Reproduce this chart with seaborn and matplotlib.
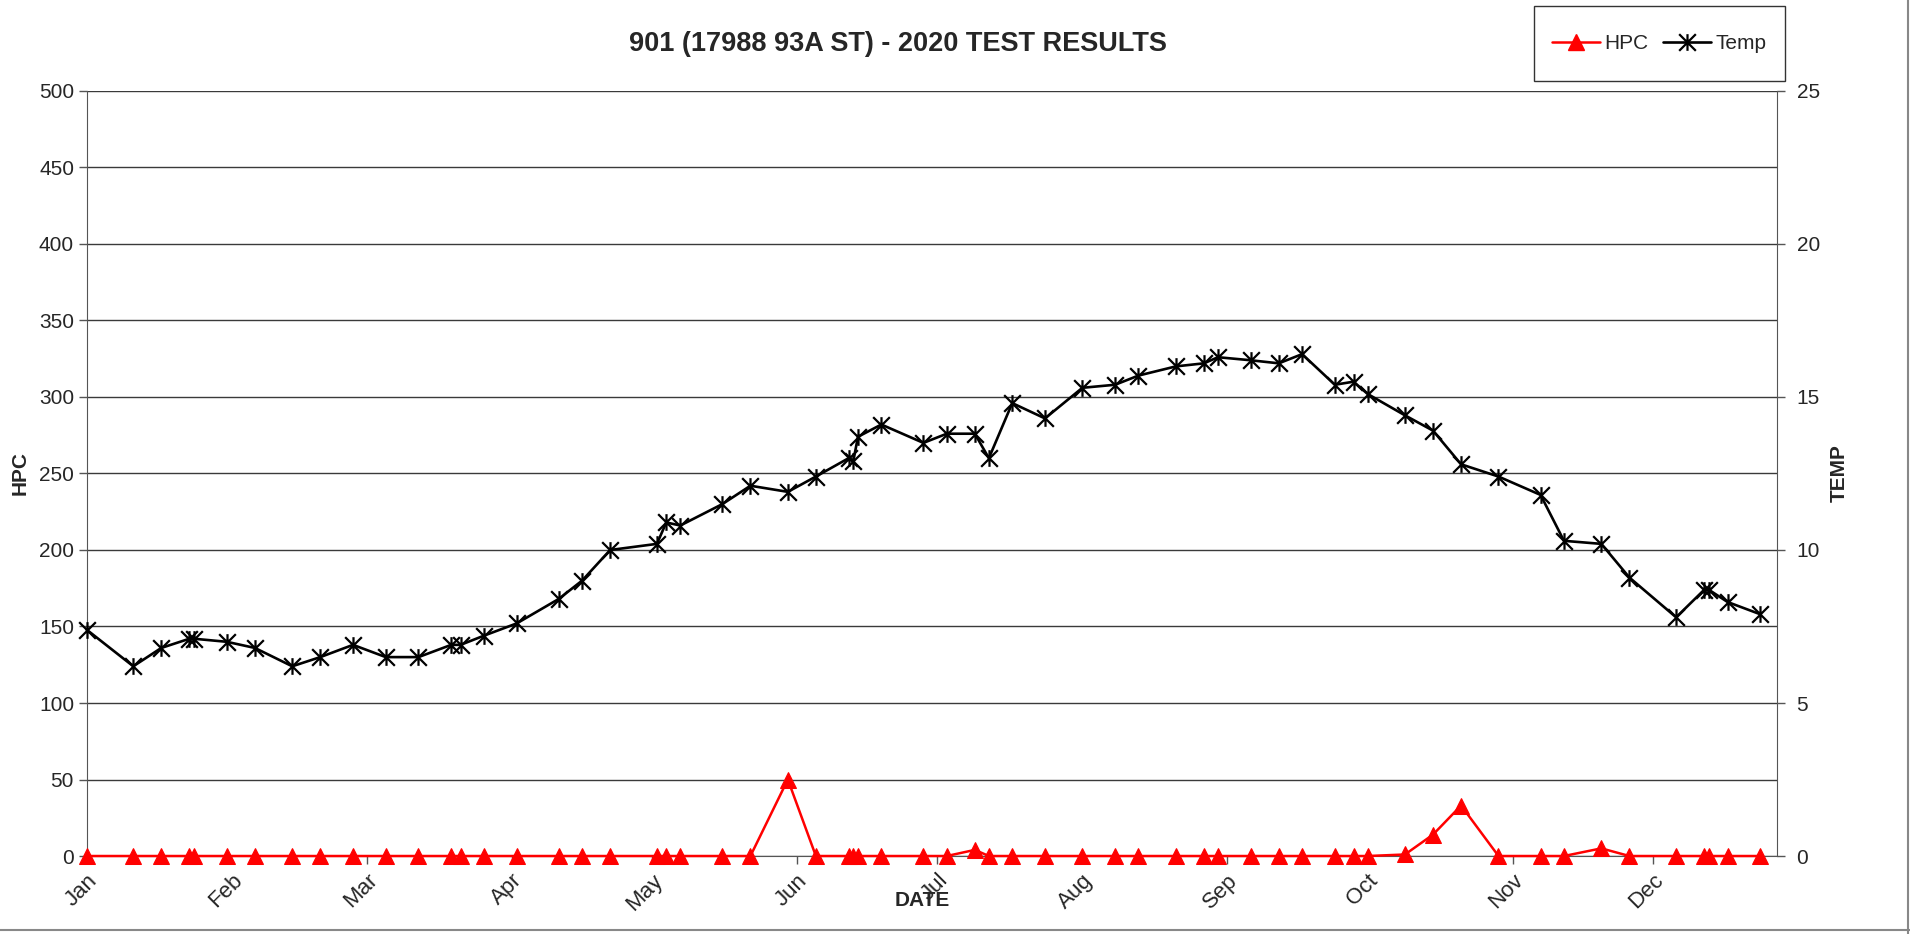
import pandas as pd
import seaborn as sns
import matplotlib.pyplot as plt
import matplotlib.dates as mdates
from matplotlib.path import Path
from matplotlib.patches import Rectangle
from matplotlib.lines import Line2D

# sample dates (2020) with HPC count and water temperature
dates = ['2020-01-01', '2020-01-11', '2020-01-17', '2020-01-23', '2020-01-24',
         '2020-01-31', '2020-02-06', '2020-02-14', '2020-02-20', '2020-02-27',
         '2020-03-05', '2020-03-12', '2020-03-19', '2020-03-21', '2020-03-26',
         '2020-04-02', '2020-04-11', '2020-04-16', '2020-04-22', '2020-05-02',
         '2020-05-04', '2020-05-07', '2020-05-16', '2020-05-22', '2020-05-30',
         '2020-06-05', '2020-06-12', '2020-06-13', '2020-06-14', '2020-06-19',
         '2020-06-28', '2020-07-03', '2020-07-09', '2020-07-12', '2020-07-17',
         '2020-07-24', '2020-08-01', '2020-08-08', '2020-08-13', '2020-08-21',
         '2020-08-27', '2020-08-30', '2020-09-06', '2020-09-12', '2020-09-17',
         '2020-09-24', '2020-09-28', '2020-10-01', '2020-10-09', '2020-10-15',
         '2020-10-21', '2020-10-29', '2020-11-07', '2020-11-12', '2020-11-20',
         '2020-11-26', '2020-12-06', '2020-12-12', '2020-12-13', '2020-12-17',
         '2020-12-24']
hpc = [0, 0, 0, 0, 0, 0, 0, 0, 0, 0,
       0, 0, 0, 0, 0, 0, 0, 0, 0, 0,
       0, 0, 0, 0, 50, 0, 0, 0, 0, 0,
       0, 0, 4, 0, 0, 0, 0, 0, 0, 0,
       0, 0, 0, 0, 0, 0, 0, 0, 1, 14,
       33, 0, 0, 0, 5, 0, 0, 0, 0, 0,
       0]
temp = [7.4, 6.2, 6.8, 7.1, 7.1, 7.0, 6.8, 6.2, 6.5, 6.9,
        6.5, 6.5, 6.9, 6.9, 7.2, 7.6, 8.4, 9.0, 10.0, 10.2,
        10.9, 10.8, 11.5, 12.1, 11.9, 12.4, 13.0, 12.9, 13.7, 14.1,
        13.5, 13.8, 13.8, 13.0, 14.8, 14.3, 15.3, 15.4, 15.7, 16.0,
        16.1, 16.3, 16.2, 16.1, 16.4, 15.4, 15.5, 15.1, 14.4, 13.9,
        12.8, 12.4, 11.8, 10.3, 10.2, 9.1, 7.8, 8.7, 8.7, 8.3,
        7.9]

df = pd.DataFrame({'date': pd.to_datetime(dates), 'HPC': hpc, 'Temp': temp})

sns.set_style('white')
plt.rcParams['font.family'] = ['Liberation Sans', 'DejaVu Sans']

# excel style "star" marker: x plus a vertical bar
star = Path([(-1, -1), (1, 1), (-1, 1), (1, -1), (0, -1), (0, 1)],
            [Path.MOVETO, Path.LINETO] * 3)

fig = plt.figure(figsize=(19.1, 9.34), dpi=100)
ax = fig.add_axes([0.0453, 0.0835, 0.8851, 0.8191])
ax2 = ax.twinx()

sns.lineplot(data=df, x='date', y='HPC', ax=ax, color='red', linewidth=1.8,
             marker='^', markersize=12, markeredgecolor='red',
             estimator=None, legend=False, clip_on=False, zorder=5)
sns.lineplot(data=df, x='date', y='Temp', ax=ax2, color='black', linewidth=1.9,
             marker=star, markersize=12, markeredgewidth=1.6,
             markeredgecolor='black', markerfacecolor='none',
             estimator=None, legend=False, clip_on=False)

ax.set_ylim(0, 500)
ax.set_yticks(range(0, 501, 50))
ax2.set_ylim(0, 25)
ax2.set_yticks(range(0, 26, 5))
ax.set_xlim(pd.Timestamp('2020-01-01'), pd.Timestamp('2020-12-27 14:00'))
ax.xaxis.set_major_locator(mdates.MonthLocator())
ax.xaxis.set_major_formatter(mdates.DateFormatter('%b'))

ax.grid(axis='y', color='#3a3a3a', linewidth=1)
ax.grid(axis='x', visible=False)
ax2.grid(False)

for a in (ax, ax2):
    a.spines['top'].set_visible(False)
ax.spines['right'].set_visible(False)
ax2.spines['left'].set_visible(False)
ax2.spines['bottom'].set_visible(False)
ax.spines['left'].set_color('#555555')
ax.spines['bottom'].set_color('#555555')
ax2.spines['right'].set_color('#555555')

ax.tick_params(axis='y', direction='out', length=6, width=1, color='#555555',
               labelsize=15, pad=3, left=True)
ax.tick_params(axis='x', direction='out', length=6, width=1, color='#555555',
               labelsize=16, pad=4, bottom=True)
ax2.tick_params(axis='y', direction='out', length=6, width=1, color='#555555',
                labelsize=15, pad=8, right=True)
plt.setp(ax.get_xticklabels(), rotation=45, ha='right', rotation_mode='anchor')

ax.set_ylabel('HPC', fontsize=15, fontweight='bold', va='center')
ax.yaxis.set_label_coords(-0.0392, 0.5)
ax2.set_ylabel('TEMP', fontsize=15, fontweight='bold', va='center')
ax2.yaxis.set_label_coords(1.0365, 0.5)
ax.set_xlabel('DATE', fontsize=15, fontweight='bold')
ax.xaxis.label.set_va('center')
ax.xaxis.set_label_coords(0.4945, -0.058)

fig.text(0.470, 0.953, '901 (17988 93A ST) - 2020 TEST RESULTS',
         ha='center', va='center', fontsize=19.5, fontweight='bold')

handles = [Line2D([], [], color='red', linewidth=1.8, marker='^', markersize=12),
           Line2D([], [], color='black', linewidth=1.9, marker=star, markersize=12,
                  markeredgewidth=1.6, markerfacecolor='none')]
fig.legend(handles, ['HPC', 'Temp'], loc='center', bbox_to_anchor=(0.8688, 0.9534),
           ncol=2, frameon=False, fontsize=15,
           handlelength=2.3, handletextpad=0.2, columnspacing=0.7)
fig.patches.append(Rectangle((1534 / 1910, 1 - 81 / 934), 251 / 1910, 75 / 934,
                             transform=fig.transFigure, fill=False,
                             edgecolor='#333333', linewidth=1))

# outer frame lines (bottom and right) as in the exported chart
fig.add_artist(Line2D([0, 1], [0.0043, 0.0043], transform=fig.transFigure,
                      color='#888888', linewidth=1.5))
fig.add_artist(Line2D([0.9992, 0.9992], [0, 1], transform=fig.transFigure,
                      color='#888888', linewidth=1.5))

fig.savefig('out.png', dpi=100)
